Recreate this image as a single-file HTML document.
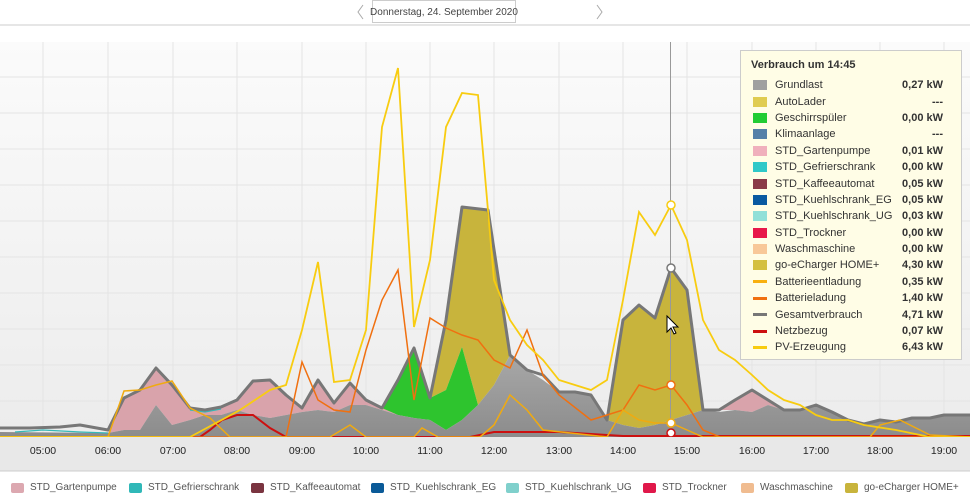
<!DOCTYPE html><html><head><meta charset="utf-8"><style>
body{margin:0;width:970px;height:499px;background:#fff;font-family:"Liberation Sans",sans-serif;overflow:hidden;position:relative}
.tt{position:absolute;left:740px;top:50px;width:222px;height:310px;background:#fffde6;border:1px solid #ccc;box-sizing:border-box;font-size:11px;color:#333}
.tt .h{font-weight:bold;margin:8px 0 6px 10px;font-size:11px}
.tt .r{display:flex;align-items:center;height:16.4px;padding-left:12px;padding-right:18px}
.tt .s{width:14px;height:10px;margin-right:8px}
.tt .l{width:14px;height:3px;margin:0 8px 0 0}
.tt .n{flex:1}.tt .v{font-weight:bold}
.lg span{position:absolute;top:482px;display:flex;align-items:center;font-size:10px;color:#555;white-space:nowrap}
.lg i{display:inline-block;width:13px;height:10px;border-radius:2px;margin-right:6px}
</style></head><body>
<svg width="970" height="499" style="position:absolute;left:0;top:0">
<defs><linearGradient id="bg" x1="0" y1="0" x2="0" y2="1"><stop offset="0" stop-color="#fbfbfb"/><stop offset="1" stop-color="#ececec"/></linearGradient>
<linearGradient id="gl" x1="0" y1="0" x2="0" y2="1"><stop offset="0" stop-color="#a8a8a8"/><stop offset="1" stop-color="#8c8c8c"/></linearGradient></defs>
<line x1="0" y1="25" x2="970" y2="25" stroke="#ccc"/>
<polyline points="363,5 358,12 363,19" fill="none" stroke="#aaa"/>
<rect x="372.5" y="0.5" width="143" height="22" fill="#fff" stroke="#ccc"/>
<text x="444" y="15" font-size="10" fill="#444" text-anchor="middle">Donnerstag, 24. September 2020</text>
<polyline points="597,5 602,12 597,19" fill="none" stroke="#aaa"/>
<rect x="0" y="42" width="970" height="395" fill="url(#bg)"/>
<g stroke="#e4e4e4" stroke-width="1">
<line x1="0" y1="77" x2="970" y2="77"/><line x1="0" y1="113" x2="970" y2="113"/><line x1="0" y1="149" x2="970" y2="149"/><line x1="0" y1="185" x2="970" y2="185"/><line x1="0" y1="221" x2="970" y2="221"/><line x1="0" y1="257" x2="970" y2="257"/><line x1="0" y1="293" x2="970" y2="293"/><line x1="0" y1="329" x2="970" y2="329"/><line x1="0" y1="365" x2="970" y2="365"/><line x1="0" y1="401" x2="970" y2="401"/>
<line x1="43" y1="42" x2="43" y2="437"/><line x1="108" y1="42" x2="108" y2="437"/><line x1="173" y1="42" x2="173" y2="437"/><line x1="237" y1="42" x2="237" y2="437"/><line x1="302" y1="42" x2="302" y2="437"/><line x1="366" y1="42" x2="366" y2="437"/><line x1="430" y1="42" x2="430" y2="437"/><line x1="494" y1="42" x2="494" y2="437"/><line x1="559" y1="42" x2="559" y2="437"/><line x1="623" y1="42" x2="623" y2="437"/><line x1="687" y1="42" x2="687" y2="437"/><line x1="752" y1="42" x2="752" y2="437"/><line x1="816" y1="42" x2="816" y2="437"/><line x1="880" y1="42" x2="880" y2="437"/><line x1="944" y1="42" x2="944" y2="437"/>
</g>
<polygon fill="#d9a3ab" points="108,433 124,398 140,390 156,368 172,385 190,408 205,410 221,407 237,400 253,381 270,380 286,395 302,408 318,380 334,403 350,383 366,400 382,408 414,418 430,420 398,415 382,410 366,405 350,405 334,412 318,410 302,412 286,415 270,418 253,415 237,410 221,415 205,415 190,420 172,425 156,405 140,430 124,430"/>
<polygon fill="#d9a3ab" points="719,410 735,400 752,390 768,400 784,410 768,405 752,412 735,410"/>
<polygon fill="#c8b43c" points="430,398 446,320 462,207 488,210 510,355 494,385 478,405 462,347 446,390"/>
<polygon fill="#c8b43c" points="607,420 623,320 639,305 655,318 671,268 687,290 703,410 687,415 671,420 655,425 639,428 623,425"/>
<polygon fill="#2ec42e" points="382,408 398,380 414,348 430,398 446,390 462,347 478,405 462,420 446,430 430,420 414,418 398,415"/>
<polygon fill="url(#gl)" points="0,437 0,432 108,433 124,430 140,430 156,405 172,425 190,420 205,415 221,415 237,410 253,415 270,418 286,415 302,412 318,410 334,412 350,405 366,405 382,410 398,415 414,418 430,420 446,430 462,420 478,405 494,385 510,355 527,370 543,380 559,392 575,392 591,395 607,420 623,425 639,428 655,425 671,420 687,415 703,410 719,412 735,410 752,412 768,405 784,410 800,410 816,405 832,412 848,420 864,424 880,420 896,422 912,418 930,418 944,415 970,415 970,437"/>
<polyline fill="none" stroke="#35b8b8" stroke-width="1.2" points="15,432 43,430 80,432 108,433"/>
<polyline fill="none" stroke="#35b8b8" stroke-width="1.2" points="190,410 205,412 221,409"/>
<polyline fill="none" stroke="#777" stroke-width="3" stroke-linejoin="round" points="0,428 30,428 60,427 80,425 108,430 124,398 140,390 156,368 172,385 190,408 205,410 221,407 237,400 253,381 270,380 286,395 302,408 318,380 334,403 350,383 366,400 382,408 398,380 414,348 430,398 446,320 462,207 488,210 510,355 527,370 543,375 559,392 575,392 591,395 607,420 623,320 639,305 655,318 671,268 687,290 703,410 719,410 735,400 752,390 768,400 784,410 800,410 816,405 832,412 848,420 864,424 880,420 896,422 912,418 930,418 944,415 970,415"/>
<polyline fill="none" stroke="#cc1010" stroke-width="2" points="0,437 200,437 210,430 222,420 237,415 253,415 270,428 286,437 470,437 494,432 559,432 623,436 970,436"/>
<polyline fill="none" stroke="#f07010" stroke-width="1.5" points="0,437 286,437 302,362 318,400 334,410 350,412 366,350 382,300 398,270 414,400 430,318 446,328 462,335 478,340 494,360 510,368 527,330 543,375 559,395 591,420 623,410 639,385 655,390 671,385 687,405 703,430 720,437 970,437"/>
<polyline fill="none" stroke="#f0aa10" stroke-width="1.5" points="0,437 108,437 124,391 140,390 156,385 172,381 190,408 210,418 230,437 330,437 350,425 366,437 414,437 422,428 438,437 480,437 494,425 510,395 527,410 543,430 607,437 623,410 639,420 655,423 671,423 687,430 703,437 870,437 880,425 900,420 930,435 970,437"/>
<polyline fill="none" stroke="#f8cc10" stroke-width="1.8" points="0,437 190,437 240,410 270,390 286,385 302,330 318,262 334,382 350,380 366,330 382,127 398,68 414,327 430,260 446,127 462,93 478,95 494,280 510,320 527,345 543,360 559,380 575,385 591,390 607,380 623,300 639,212 655,235 671,205 687,240 703,320 719,350 735,360 752,375 768,390 784,400 800,405 816,415 832,420 848,420 864,425 896,430 930,437 970,437"/>
<line x1="670.5" y1="42" x2="670.5" y2="437" stroke="#999"/>
<g stroke-width="1.5" fill="#fff"><circle cx="671" cy="205" r="4" stroke="#f8cc10"/><circle cx="671" cy="268" r="4" stroke="#777"/><circle cx="671" cy="385" r="4" stroke="#f07010"/><circle cx="671" cy="423" r="4" stroke="#f0aa10"/><circle cx="671" cy="433" r="4" stroke="#cc1010"/></g>
<path d="M667,316 l0,16 4,-4 3,6 2,-1 -3,-6 5,0z" fill="#fff" stroke="#000" stroke-width="1"/>
<rect x="0" y="437" width="970" height="34" fill="#e8e8e8"/>
<line x1="0" y1="471" x2="970" y2="471" stroke="#ccc"/>
<g font-size="10.5" fill="#222" text-anchor="middle">
<text x="43" y="454">05:00</text><text x="108" y="454">06:00</text><text x="173" y="454">07:00</text><text x="237" y="454">08:00</text><text x="302" y="454">09:00</text><text x="366" y="454">10:00</text><text x="430" y="454">11:00</text><text x="494" y="454">12:00</text><text x="559" y="454">13:00</text><text x="623" y="454">14:00</text><text x="687" y="454">15:00</text><text x="752" y="454">16:00</text><text x="816" y="454">17:00</text><text x="880" y="454">18:00</text><text x="944" y="454">19:00</text></g>
</svg>
<div class="tt"><div class="h">Verbrauch um 14:45</div>
<div class="r"><i class="s" style="background:#a0a0a0"></i><span class="n">Grundlast</span><span class="v">0,27 kW</span></div>
<div class="r"><i class="s" style="background:#e0cc50"></i><span class="n">AutoLader</span><span class="v">---</span></div>
<div class="r"><i class="s" style="background:#22cc33"></i><span class="n">Geschirrspüler</span><span class="v">0,00 kW</span></div>
<div class="r"><i class="s" style="background:#5580a8"></i><span class="n">Klimaanlage</span><span class="v">---</span></div>
<div class="r"><i class="s" style="background:#f0b0bc"></i><span class="n">STD_Gartenpumpe</span><span class="v">0,01 kW</span></div>
<div class="r"><i class="s" style="background:#30c8c8"></i><span class="n">STD_Gefrierschrank</span><span class="v">0,00 kW</span></div>
<div class="r"><i class="s" style="background:#8a3a48"></i><span class="n">STD_Kaffeeautomat</span><span class="v">0,05 kW</span></div>
<div class="r"><i class="s" style="background:#0a5aa0"></i><span class="n">STD_Kuehlschrank_EG</span><span class="v">0,05 kW</span></div>
<div class="r"><i class="s" style="background:#90e0d8"></i><span class="n">STD_Kuehlschrank_UG</span><span class="v">0,03 kW</span></div>
<div class="r"><i class="s" style="background:#e8184a"></i><span class="n">STD_Trockner</span><span class="v">0,00 kW</span></div>
<div class="r"><i class="s" style="background:#f8c898"></i><span class="n">Waschmaschine</span><span class="v">0,00 kW</span></div>
<div class="r"><i class="s" style="background:#d4c040"></i><span class="n">go-eCharger HOME+</span><span class="v">4,30 kW</span></div>
<div class="r"><i class="l" style="background:#f8b010"></i><span class="n">Batterieentladung</span><span class="v">0,35 kW</span></div>
<div class="r"><i class="l" style="background:#f07010"></i><span class="n">Batterieladung</span><span class="v">1,40 kW</span></div>
<div class="r"><i class="l" style="background:#777"></i><span class="n">Gesamtverbrauch</span><span class="v">4,71 kW</span></div>
<div class="r"><i class="l" style="background:#cc1010"></i><span class="n">Netzbezug</span><span class="v">0,07 kW</span></div>
<div class="r"><i class="l" style="background:#f8cc10"></i><span class="n">PV-Erzeugung</span><span class="v">6,43 kW</span></div>
</div>
<div class="lg">
<span style="left:11px"><i style="background:#dca8b0"></i>STD_Gartenpumpe</span>
<span style="left:129px"><i style="background:#30b8b8"></i>STD_Gefrierschrank</span>
<span style="left:251px"><i style="background:#7a3440"></i>STD_Kaffeeautomat</span>
<span style="left:371px"><i style="background:#0a5a98"></i>STD_Kuehlschrank_EG</span>
<span style="left:506px"><i style="background:#80d0cc"></i>STD_Kuehlschrank_UG</span>
<span style="left:643px"><i style="background:#e0184a"></i>STD_Trockner</span>
<span style="left:741px"><i style="background:#f0bc90"></i>Waschmaschine</span>
<span style="left:845px"><i style="background:#c8b43c"></i>go-eCharger HOME+</span>
</div>
</body></html>
